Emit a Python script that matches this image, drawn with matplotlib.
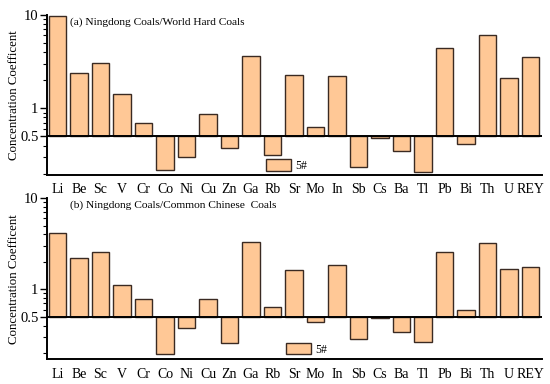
import numpy as np
import matplotlib.pyplot as plt
from matplotlib.ticker import FixedLocator, FixedFormatter, LogLocator, NullFormatter

plt.rcParams["font.family"] = ["Liberation Serif", "DejaVu Serif"]

elements = ["Li", "Be", "Sc", "V", "Cr", "Co", "Ni", "Cu", "Zn", "Ga", "Rb", "Sr",
            "Mo", "In", "Sb", "Cs", "Ba", "Tl", "Pb", "Bi", "Th", "U", "REY"]

# (a) Ningdong coals / world hard coals
world_cc = [9.6, 2.38, 3.07, 1.41, 0.70, 0.221, 0.30, 0.86, 0.38, 3.65, 0.32, 2.27,
            0.63, 2.20, 0.234, 0.48, 0.35, 0.209, 4.41, 0.42, 6.02, 2.12, 3.53]

# (b) Ningdong coals / common Chinese coals
china_cc = [4.17, 2.22, 2.56, 1.12, 0.78, 0.194, 0.38, 0.79, 0.258, 3.27, 0.635, 1.62,
            0.435, 1.86, 0.288, 0.48, 0.34, 0.267, 2.58, 0.59, 3.24, 1.66, 1.75]

BASE = 0.5
BAR_COLOR = "#ffc896"
EDGE_COLOR = "#3a2a22"

fig = plt.figure(figsize=(5.5, 3.84), dpi=100)
ax_a = fig.add_axes([0.085, 0.545, 0.9, 0.4167])
ax_b = fig.add_axes([0.085, 0.0643, 0.9, 0.42])


def draw_panel(ax, values, title, ymin, leg_pos):
    x = np.arange(len(elements))
    vals = np.array(values)
    ax.bar(x, vals - BASE, bottom=BASE, width=0.82, color=BAR_COLOR,
           edgecolor=EDGE_COLOR, linewidth=1.0, label="5#")
    ax.axhline(BASE, color="black", linewidth=1.4)

    ax.set_yscale("log")
    ax.set_ylim(ymin, 10)
    ax.set_xlim(-0.5, 22.52)

    ax.yaxis.set_major_locator(FixedLocator([0.5, 1, 10]))
    ax.yaxis.set_major_formatter(FixedFormatter(["0.5", "1", "10"]))
    ax.yaxis.set_minor_locator(LogLocator(base=10, subs=np.arange(2, 10)))
    ax.yaxis.set_minor_formatter(NullFormatter())

    ax.set_xticks(x)
    ax.set_xticklabels(elements, fontsize=10)
    ax.tick_params(axis="x", length=0, pad=6)
    ax.tick_params(axis="y", which="major", direction="out", length=5, width=1.0,
                   labelsize=10.5, pad=1)
    ax.tick_params(axis="y", which="minor", direction="out", length=3, width=0.8)

    for side in ["top", "right"]:
        ax.spines[side].set_visible(False)
    for side in ["left", "bottom"]:
        ax.spines[side].set_linewidth(1.4)

    ax.text(0.047, 0.955, title, transform=ax.transAxes, fontsize=8.2,
            ha="left", va="center")
    ax.set_ylabel("Concentration Coefficent", fontsize=9.3)
    ax.yaxis.set_label_coords(-0.054, 0.5)

    ax.legend(loc="center left", bbox_to_anchor=leg_pos, frameon=False,
              fontsize=8.5, borderpad=0, borderaxespad=0, handlelength=2.1,
              handleheight=1.1, handletextpad=0.4)


draw_panel(ax_a, world_cc, "(a) Ningdong Coals/World Hard Coals", 0.195, (0.443, 0.0575))
draw_panel(ax_b, china_cc, "(b) Ningdong Coals/Common Chinese  Coals", 0.171, (0.483, 0.061))

fig.savefig("out.png", dpi=100)
